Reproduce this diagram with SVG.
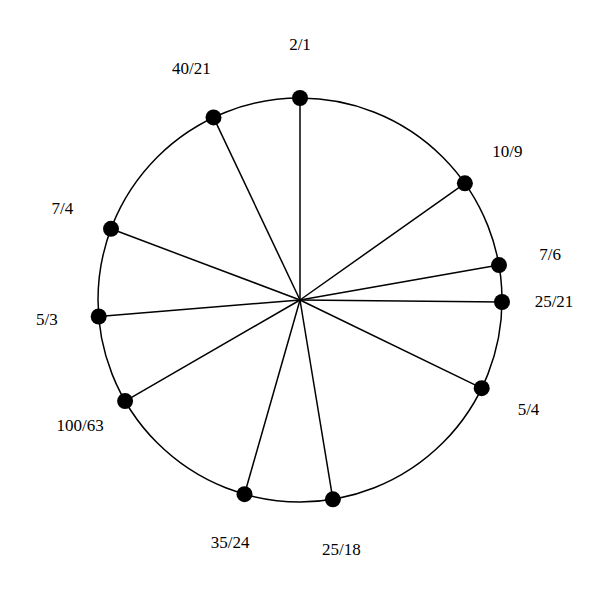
<svg xmlns="http://www.w3.org/2000/svg" width="600" height="600" viewBox="0 0 600 600">
<style>
.ring{fill:none;stroke:#000;stroke-width:1.5}
.spoke{stroke:#000;stroke-width:1.5}
.dot{fill:#000}
.lbl{font-family:"Liberation Serif","Times New Roman",serif;font-size:17px;fill:#000;text-anchor:middle}
</style>
<rect width="600" height="600" fill="#fff"/>
<circle id="ring" class="ring" cx="300" cy="300" r="202"/>
<g id="connectors">
<line class="spoke" x1="300" y1="300" x2="300" y2="98"/>
<line class="spoke" x1="300" y1="300" x2="464.9" y2="183.3"/>
<line class="spoke" x1="300" y1="300" x2="499" y2="265.1"/>
<line class="spoke" x1="300" y1="300" x2="502" y2="302"/>
<line class="spoke" x1="300" y1="300" x2="481.7" y2="388.2"/>
<line class="spoke" x1="300" y1="300" x2="332.9" y2="499.3"/>
<line class="spoke" x1="300" y1="300" x2="244.5" y2="494.2"/>
<line class="spoke" x1="300" y1="300" x2="125.1" y2="401.1"/>
<line class="spoke" x1="300" y1="300" x2="98.7" y2="316.5"/>
<line class="spoke" x1="300" y1="300" x2="111" y2="228.8"/>
<line class="spoke" x1="300" y1="300" x2="213.5" y2="117.4"/>
</g>
<g id="n-2-1"><circle class="dot" cx="300" cy="98" r="8"/><text class="lbl" x="300" y="50">2/1</text></g>
<g id="n-10-9"><circle class="dot" cx="464.9" cy="183.3" r="8"/><text class="lbl" x="507.3" y="157.3">10/9</text></g>
<g id="n-7-6"><circle class="dot" cx="499" cy="265.1" r="8"/><text class="lbl" x="550.2" y="260.2">7/6</text></g>
<g id="n-25-21"><circle class="dot" cx="502" cy="302" r="8"/><text class="lbl" x="554" y="306.5">25/21</text></g>
<g id="n-5-4"><circle class="dot" cx="481.7" cy="388.2" r="8"/><text class="lbl" x="528.5" y="414.9">5/4</text></g>
<g id="n-25-18"><circle class="dot" cx="332.9" cy="499.3" r="8"/><text class="lbl" x="341.4" y="554.6">25/18</text></g>
<g id="n-35-24"><circle class="dot" cx="244.5" cy="494.2" r="8"/><text class="lbl" x="230.2" y="548.2">35/24</text></g>
<g id="n-100-63"><circle class="dot" cx="125.1" cy="401.1" r="8"/><text class="lbl" x="80.1" y="431.1">100/63</text></g>
<g id="n-5-3"><circle class="dot" cx="98.7" cy="316.5" r="8"/><text class="lbl" x="46.9" y="324.8">5/3</text></g>
<g id="n-7-4"><circle class="dot" cx="111" cy="228.8" r="8"/><text class="lbl" x="62.3" y="214.4">7/4</text></g>
<g id="n-40-21"><circle class="dot" cx="213.5" cy="117.4" r="8"/><text class="lbl" x="191.3" y="74.4">40/21</text></g>
</svg>
